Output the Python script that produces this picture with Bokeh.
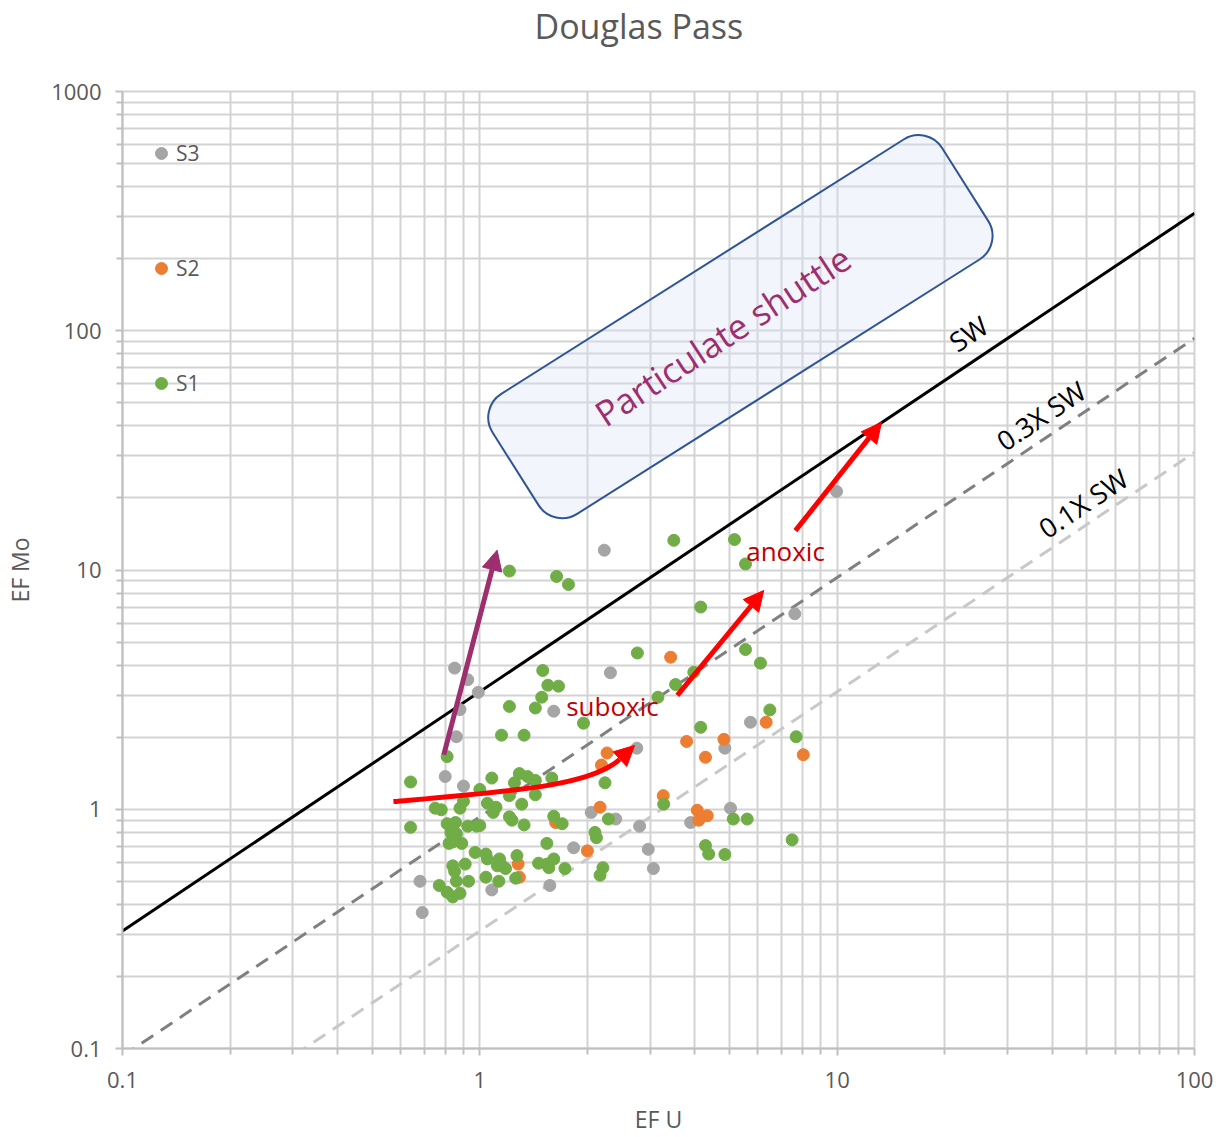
import numpy as np
from bokeh.plotting import figure
from bokeh.models import (FixedTicker, CustomJSTickFormatter, Arrow, NormalHead,
                          Legend, LegendItem, Range1d, Title)
from bokeh.core.properties import value
from bokeh.embed import file_html
from bokeh.resources import INLINE

# ---------------- data: enrichment factors (EF U, EF Mo) ----------------
s1_u = [1.21, 1.43, 1.95, 1.15, 1.33, 0.81, 0.64, 1.08, 1.29, 1.36, 1.43, 1.25, 1.59, 1.00,
        1.21, 1.43, 2.24, 0.90, 1.05, 1.31, 0.75, 0.78, 0.88, 1.11, 1.09, 1.21, 1.23, 1.61,
        1.70, 1.33, 0.64, 0.81, 0.855, 0.925, 0.98, 0.83, 0.86, 0.84, 0.89, 0.82, 1.54, 2.10,
        2.12, 2.29, 0.97, 1.04, 1.05, 1.135, 1.155, 1.18, 1.12, 1.27, 1.46, 1.54, 1.61, 1.56,
        1.73, 0.84, 0.91, 0.85, 0.86, 0.93, 1.04, 1.13, 1.26, 2.21, 2.17, 0.77, 0.81, 0.84,
        0.88, 3.27, 3.49, 1.21, 1.64, 1.77, 2.76, 1.50, 1.55, 1.66, 1.49, 3.53, 3.15, 5.16,
        5.54, 4.15, 5.54, 6.10, 3.97, 6.48, 4.15, 7.68, 5.12, 5.60, 7.48, 4.28, 4.37, 4.85,
        1.00]
s1_mo = [2.69, 2.65, 2.29, 2.04, 2.04, 1.66, 1.30, 1.35, 1.41, 1.37, 1.32, 1.29, 1.35, 1.21,
         1.14, 1.15, 1.29, 1.08, 1.06, 1.05, 1.01, 0.995, 1.01, 1.02, 0.97, 0.93, 0.90, 0.935,
         0.87, 0.86, 0.84, 0.87, 0.88, 0.85, 0.85, 0.80, 0.79, 0.73, 0.72, 0.72, 0.72, 0.80,
         0.76, 0.91, 0.66, 0.65, 0.62, 0.62, 0.58, 0.565, 0.58, 0.64, 0.595, 0.59, 0.62, 0.57,
         0.565, 0.58, 0.59, 0.55, 0.50, 0.50, 0.52, 0.50, 0.515, 0.57, 0.53, 0.48, 0.45, 0.43,
         0.445, 1.05, 13.3, 9.9, 9.4, 8.7, 4.5, 3.8, 3.3, 3.27, 2.94, 3.32, 2.94, 13.4,
         10.6, 7.0, 4.65, 4.08, 3.74, 2.60, 2.20, 2.01, 0.91, 0.91, 0.745, 0.705, 0.65, 0.647,
         0.855]

s2_u = [2.27, 2.19, 2.17, 1.63, 2.00, 1.28, 1.29, 3.26, 3.42, 6.33, 3.79, 4.82, 4.28, 8.04,
        4.06, 4.33, 4.10]
s2_mo = [1.72, 1.53, 1.02, 0.88, 0.67, 0.59, 0.52, 1.14, 4.32, 2.31, 1.92, 1.96, 1.65, 1.69,
         0.99, 0.94, 0.90]

s3_u = [1.61, 0.86, 0.80, 0.90, 2.75, 2.05, 2.40, 2.80, 1.83, 2.96, 3.06, 0.68, 1.08, 1.57,
        0.69, 2.23, 0.85, 0.925, 0.99, 0.88, 2.32, 7.61, 5.72, 4.85, 5.03, 3.89, 9.96]
s3_mo = [2.57, 2.01, 1.37, 1.25, 1.80, 0.97, 0.91, 0.85, 0.69, 0.68, 0.565, 0.50, 0.46, 0.48,
         0.37, 12.1, 3.89, 3.48, 3.08, 2.61, 3.72, 6.56, 2.31, 1.80, 1.01, 0.88, 21.3]

# Mo/U reference ratios: seawater and fractions of it
sw_ratio = 3.1
ratio_labels = ["SW", "0.3X SW", "0.1X SW"]
ratio_values = [sw_ratio, 0.3 * sw_ratio, 0.1 * sw_ratio]

x_major = [0.1, 1, 10, 100]
y_major = [0.1, 1, 10, 100, 1000]

FONT = "Open Sans"
GREY_TXT = "#595959"
GRID = "#d3d3d3"

p = figure(width=1224, height=1137, x_axis_type="log", y_axis_type="log",
           x_range=Range1d(0.1, 100), y_range=Range1d(0.1, 1000),
           output_backend="svg", toolbar_location=None,
           min_border_left=122, min_border_right=30, min_border_top=91, min_border_bottom=89,
           background_fill_color="white", border_fill_color="white")

# title: a thin spacer next to the frame pushes the heading to the top edge
p.add_layout(Title(text=" ", text_font_size="1px", standoff=39.5), "above")
p.add_layout(Title(text="Douglas Pass", align="left", offset=412, standoff=0,
                   text_font=FONT, text_font_size="34px", text_font_style="normal",
                   text_color=GREY_TXT), "above")

# ticks, grid, axes
def minors(majors):
    return [k * d for d in majors[:-1] for k in range(2, 10)]

xt = FixedTicker(ticks=x_major, minor_ticks=minors(x_major))
yt = FixedTicker(ticks=y_major, minor_ticks=minors(y_major))
p.xaxis.ticker = xt
p.yaxis.ticker = yt
p.xgrid.ticker = xt
p.ygrid.ticker = yt
fmt = CustomJSTickFormatter(code="return tick.toString();")
p.xaxis.formatter = fmt
p.yaxis.formatter = fmt

for g in (p.xgrid, p.ygrid):
    g.grid_line_color = GRID
    g.grid_line_width = 2
    g.minor_grid_line_color = GRID
    g.minor_grid_line_width = 2

for ax in (p.xaxis, p.yaxis):
    ax.axis_line_color = "#bfbfbf"
    ax.axis_line_width = 2
    ax.major_tick_line_color = "#bfbfbf"
    ax.minor_tick_line_color = "#bfbfbf"
    ax.major_tick_line_width = 2
    ax.minor_tick_line_width = 2
    ax.major_tick_in = 0
    ax.minor_tick_in = 0
    ax.major_tick_out = 7
    ax.minor_tick_out = 6
    ax.major_label_text_font = FONT
    ax.major_label_text_font_size = "22px"
    ax.major_label_text_color = GREY_TXT
    ax.axis_label_text_font = FONT
    ax.axis_label_text_font_size = "23px"
    ax.axis_label_text_font_style = "normal"
    ax.axis_label_text_color = GREY_TXT

p.xaxis.axis_label = "EF U"
p.yaxis.axis_label = "EF Mo"
p.xaxis.major_label_standoff = 16
p.xaxis.axis_label_standoff = 12
p.xaxis.major_label_text_line_height = 0.9
p.xaxis.axis_label_text_line_height = 0.9
p.yaxis.major_label_standoff = 14
p.yaxis.axis_label_standoff = 12

p.outline_line_color = GRID
p.outline_line_width = 2

# ratio lines
x_ends = [x_major[0], x_major[-1]]
line_styles = [("black", None), ("#808080", "14 9"), ("#c8c8c8", "14 9")]
for r, (col, dash) in zip(ratio_values, line_styles):
    kw = dict(line_color=col, line_width=3)
    if dash:
        kw["line_dash"] = dash
    p.line(x_ends, [r * v for v in x_ends], **kw)

# ratio line labels
LINE_ANGLE = np.arctan2(239.25, 357.33)
lab_x = [23.3, 37.2, 48.8]
lab_y = [97.4, 44.2, 19.05]
p.text(x=lab_x, y=lab_y, text=ratio_labels, angle=LINE_ANGLE,
       text_align="center", text_baseline="middle",
       text_font=value(FONT), text_font_size="27px", text_color="black")

# sample groups
r3 = p.scatter(s3_u, s3_mo, size=12, fill_color="#a5a5a5", line_color="#a5a5a5")
r2 = p.scatter(s2_u, s2_mo, size=12, fill_color="#ed7d31", line_color="#ed7d31")
r1 = p.scatter(s1_u, s1_mo, size=12, fill_color="#70ad47", line_color="#70ad47")

legend = Legend(items=[LegendItem(label="S3", renderers=[r3]),
                       LegendItem(label="S2", renderers=[r2]),
                       LegendItem(label="S1", renderers=[r1])],
                location="top_left", margin=24, padding=0, spacing=39,
                glyph_width=30, glyph_height=76, label_height=76, label_standoff=0,
                label_text_font=FONT, label_text_font_size="21px",
                label_text_color=GREY_TXT,
                background_fill_alpha=0, border_line_alpha=0)
p.add_layout(legend)

# particulate shuttle field
BOX_ANGLE = np.deg2rad(32.3)
p.rect(x=[5.36], y=[104], width=[532], height=[142], angle=BOX_ANGLE,
       width_units="screen", height_units="screen", border_radius=28,
       fill_color="#dae3f3", fill_alpha=0.35, line_color="#2f5597", line_width=2)
p.text(x=[4.78], y=[95.5], text=["Particulate shuttle"], angle=np.deg2rad(33.2),
       text_align="center", text_baseline="middle",
       text_font=value(FONT), text_font_size="35px", text_color="#9e2f6e")

# redox trend arrows
RED = "#ff0000"
p.bezier(x0=[0.573], y0=[1.077], cx0=[1.30], cy0=[1.198], cx1=[2.04], cy1=[1.257],
         x1=[2.46], y1=[1.614], line_color=RED, line_width=5)
p.add_layout(Arrow(end=NormalHead(size=20, fill_color=RED, line_color=RED),
                   x_start=2.46, y_start=1.614, x_end=2.71, y_end=1.847,
                   line_color=RED, line_width=5))
p.add_layout(Arrow(end=NormalHead(size=20, fill_color=RED, line_color=RED),
                   x_start=3.57, y_start=2.99, x_end=6.23, y_end=8.21,
                   line_color=RED, line_width=5))
p.add_layout(Arrow(end=NormalHead(size=20, fill_color=RED, line_color=RED),
                   x_start=7.64, y_start=14.6, x_end=13.3, y_end=41.4,
                   line_color=RED, line_width=5))
PURPLE = "#9e2f6e"
p.add_layout(Arrow(end=NormalHead(size=20, fill_color=PURPLE, line_color=PURPLE),
                   x_start=0.793, y_start=1.69, x_end=1.118, y_end=12.1,
                   line_color=PURPLE, line_width=5))

p.text(x=[2.35, 7.17], y=[2.69, 12.06], text=["suboxic", "anoxic"],
       text_align="center", text_baseline="middle",
       text_font=value(FONT), text_font_size="26px", text_color="#c00000")

open("out.html", "w").write(file_html(p, INLINE))
